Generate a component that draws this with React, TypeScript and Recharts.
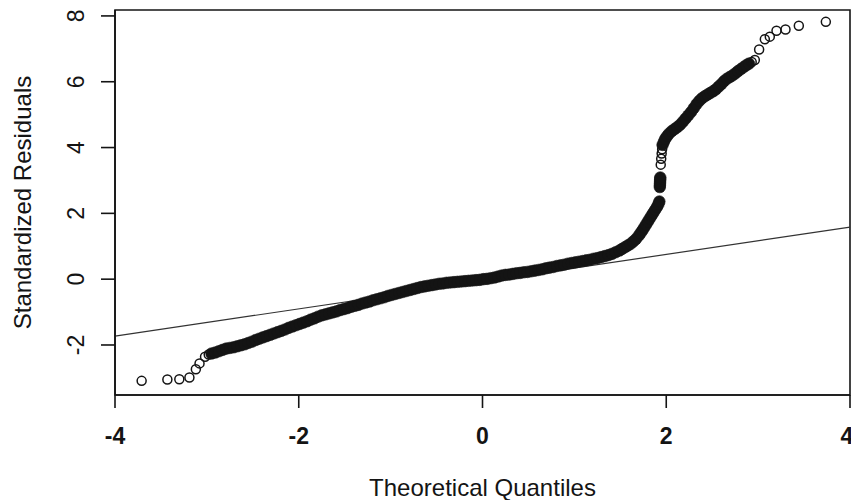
import { ScatterChart, Scatter, XAxis, YAxis, ReferenceLine, ReferenceArea, Label } from "recharts"

// theoretical quantile, standardized residual
const lowerTail: [number, number][] = [
  [-3.71, -3.09], [-3.43, -3.05], [-3.3, -3.04], [-3.19, -2.99],
  [-3.12, -2.74], [-3.08, -2.56], [-3.02, -2.36], [-2.98, -2.29],
]

const lowerBand: [number, number][] = [
  [-2.95, -2.26], [-2.91, -2.23], [-2.87, -2.19], [-2.83, -2.15], [-2.79, -2.11],
  [-2.75, -2.09], [-2.71, -2.07], [-2.67, -2.04], [-2.63, -2.01], [-2.59, -1.98],
  [-2.55, -1.94], [-2.51, -1.9], [-2.47, -1.85], [-2.43, -1.81], [-2.39, -1.77],
  [-2.35, -1.73], [-2.31, -1.69], [-2.27, -1.65], [-2.23, -1.61], [-2.19, -1.57],
  [-2.15, -1.53], [-2.11, -1.48], [-2.07, -1.44], [-2.03, -1.4], [-1.99, -1.36],
  [-1.95, -1.32], [-1.91, -1.28], [-1.87, -1.23], [-1.83, -1.19], [-1.79, -1.14],
  [-1.75, -1.1], [-1.71, -1.07], [-1.67, -1.04], [-1.63, -1.01], [-1.59, -0.98],
  [-1.55, -0.94], [-1.51, -0.91], [-1.47, -0.88], [-1.43, -0.84], [-1.39, -0.81],
  [-1.35, -0.78], [-1.31, -0.74], [-1.27, -0.71], [-1.23, -0.68], [-1.19, -0.64],
  [-1.15, -0.61], [-1.11, -0.58], [-1.07, -0.55], [-1.03, -0.51], [-0.99, -0.48],
  [-0.95, -0.45], [-0.91, -0.42], [-0.87, -0.39], [-0.83, -0.36], [-0.79, -0.33],
  [-0.75, -0.3], [-0.71, -0.27], [-0.67, -0.24], [-0.63, -0.22], [-0.59, -0.2],
  [-0.55, -0.18], [-0.51, -0.16], [-0.47, -0.14], [-0.43, -0.13], [-0.39, -0.11],
  [-0.35, -0.1], [-0.31, -0.09], [-0.27, -0.08], [-0.23, -0.07], [-0.19, -0.06],
  [-0.15, -0.05], [-0.11, -0.04], [-0.07, -0.03], [-0.03, -0.02], [0.01, 0.0],
  [0.05, 0.01], [0.09, 0.03], [0.13, 0.05], [0.17, 0.08], [0.21, 0.11],
  [0.25, 0.13], [0.29, 0.14], [0.33, 0.16], [0.37, 0.18], [0.41, 0.19],
  [0.45, 0.21], [0.49, 0.22], [0.53, 0.24], [0.57, 0.26], [0.61, 0.28],
  [0.65, 0.3], [0.69, 0.33], [0.73, 0.35], [0.77, 0.37], [0.81, 0.4],
  [0.85, 0.42], [0.89, 0.44], [0.93, 0.47], [0.97, 0.49], [1.01, 0.51],
  [1.05, 0.53], [1.09, 0.55], [1.13, 0.57], [1.17, 0.59], [1.21, 0.62],
  [1.25, 0.64], [1.29, 0.67], [1.33, 0.7], [1.37, 0.73], [1.41, 0.77],
  [1.45, 0.82], [1.49, 0.87], [1.52, 0.92], [1.55, 0.97], [1.58, 1.02],
  [1.61, 1.07], [1.64, 1.14], [1.67, 1.22], [1.7, 1.32], [1.72, 1.4],
  [1.74, 1.48], [1.76, 1.57], [1.78, 1.66], [1.8, 1.75], [1.82, 1.84],
  [1.84, 1.93], [1.86, 2.02], [1.88, 2.11], [1.9, 2.2], [1.915, 2.28],
  [1.925, 2.36],
]

const jumpCluster: [number, number][] = [
  [1.93, 2.8], [1.931, 2.86], [1.932, 2.92], [1.933, 2.98], [1.934, 3.04], [1.935, 3.09],
]

const jumpOpen: [number, number][] = [
  [1.94, 3.48], [1.945, 3.66], [1.95, 3.82], [1.955, 3.95],
]

const upperBand: [number, number][] = [
  [1.96, 4.08], [1.975, 4.18], [1.99, 4.27], [2.01, 4.35], [2.03, 4.42],
  [2.06, 4.5], [2.09, 4.56], [2.12, 4.62], [2.15, 4.69], [2.18, 4.78],
  [2.21, 4.88], [2.24, 4.98], [2.27, 5.08], [2.3, 5.2], [2.33, 5.32],
  [2.36, 5.42], [2.39, 5.5], [2.42, 5.56], [2.45, 5.61], [2.48, 5.66],
  [2.51, 5.71], [2.54, 5.77], [2.57, 5.85], [2.6, 5.93], [2.63, 6.02],
  [2.66, 6.09], [2.69, 6.14], [2.72, 6.19], [2.75, 6.25], [2.78, 6.32],
  [2.81, 6.38], [2.84, 6.44], [2.87, 6.5], [2.9, 6.55],
]

const upperTail: [number, number][] = [
  [2.93, 6.6], [2.964, 6.66], [3.011, 6.98], [3.073, 7.29], [3.127, 7.37],
  [3.2, 7.55], [3.298, 7.59], [3.443, 7.7], [3.737, 7.82],
]

// qqline end points
const qqLine = [
  { q: -4, r: -1.73 },
  { q: 4, r: 1.58 },
]

const xTicks = [-4, -2, 0, 2, 4]
const yTicks = [-2, 0, 2, 4, 6, 8]
const xDomain = [-4, 4]
const yDomain = [-3.52, 8.18]

const toRows = (pts: [number, number][]) => pts.map(([q, r]) => ({ q, r }))

const openPoints = toRows([...lowerTail, ...jumpOpen, ...upperTail])
const densePoints = toRows([...lowerBand, ...jumpCluster, ...upperBand])

const font = "'Liberation Sans', Arial, Helvetica, sans-serif"
const ink = "#141414"

const OpenDot = (props: any) => (
  <circle cx={props.cx} cy={props.cy} r={4.5} fill="none" stroke={ink} strokeWidth={1.5} />
)

const FilledDot = (props: any) => (
  <circle cx={props.cx} cy={props.cy} r={5.8} fill={ink} stroke={ink} strokeWidth={0.6} />
)

const XTick = (props: any) => (
  <text x={props.x} y={444} textAnchor="middle" fontFamily={font} fontSize={23} fontWeight="bold" fill={ink}>
    {props.payload.value}
  </text>
)

const YTick = (props: any) => {
  const x = 84
  return (
    <text
      x={x}
      y={props.y}
      textAnchor="middle"
      transform={`rotate(-90, ${x}, ${props.y})`}
      fontFamily={font}
      fontSize={23}
      fill={ink}
    >
      {props.payload.value}
    </text>
  )
}

export default function App() {
  return (
    <div style={{ position: "absolute", left: 0, top: 0, width: 851, height: 500, overflow: "hidden", background: "#fff" }}>
      <ScatterChart width={851} height={500} margin={{ top: 10, right: 1, left: 0, bottom: 0 }}>
        <XAxis
          type="number"
          dataKey="q"
          domain={xDomain}
          ticks={xTicks}
          allowDataOverflow
          height={105}
          stroke={ink}
          strokeWidth={1.6}
          tickSize={13}
          tick={<XTick />}
        >
          <Label
            content={(p: any) => (
              <text
                x={p.viewBox.x + p.viewBox.width / 2}
                y={p.viewBox.y + 101}
                textAnchor="middle"
                fontFamily={font}
                fontSize={24}
                fill={ink}
              >
                Theoretical Quantiles
              </text>
            )}
          />
        </XAxis>
        <YAxis
          type="number"
          dataKey="r"
          domain={yDomain}
          ticks={yTicks}
          allowDataOverflow
          width={115}
          stroke={ink}
          strokeWidth={1.6}
          tickSize={14}
          tick={<YTick />}
        >
          <Label
            content={(p: any) => {
              const cx = 31
              const cy = p.viewBox.y + p.viewBox.height / 2
              return (
                <text
                  x={cx}
                  y={cy}
                  textAnchor="middle"
                  transform={`rotate(-90, ${cx}, ${cy})`}
                  fontFamily={font}
                  fontSize={24}
                  fill={ink}
                >
                  Standardized Residuals
                </text>
              )
            }}
          />
        </YAxis>
        <ReferenceArea
          x1={xDomain[0]}
          x2={xDomain[1]}
          y1={yDomain[0]}
          y2={yDomain[1]}
          fill="none"
          fillOpacity={0}
          stroke={ink}
          strokeWidth={1.6}
          ifOverflow="visible"
        />
        <ReferenceLine
          segment={[{ x: qqLine[0].q, y: qqLine[0].r }, { x: qqLine[1].q, y: qqLine[1].r }]}
          stroke="#333"
          strokeWidth={1.2}
          ifOverflow="visible"
        />
        <Scatter data={densePoints} shape={<FilledDot />} isAnimationActive={false} />
        <Scatter data={openPoints} shape={<OpenDot />} isAnimationActive={false} />
      </ScatterChart>
    </div>
  )
}
